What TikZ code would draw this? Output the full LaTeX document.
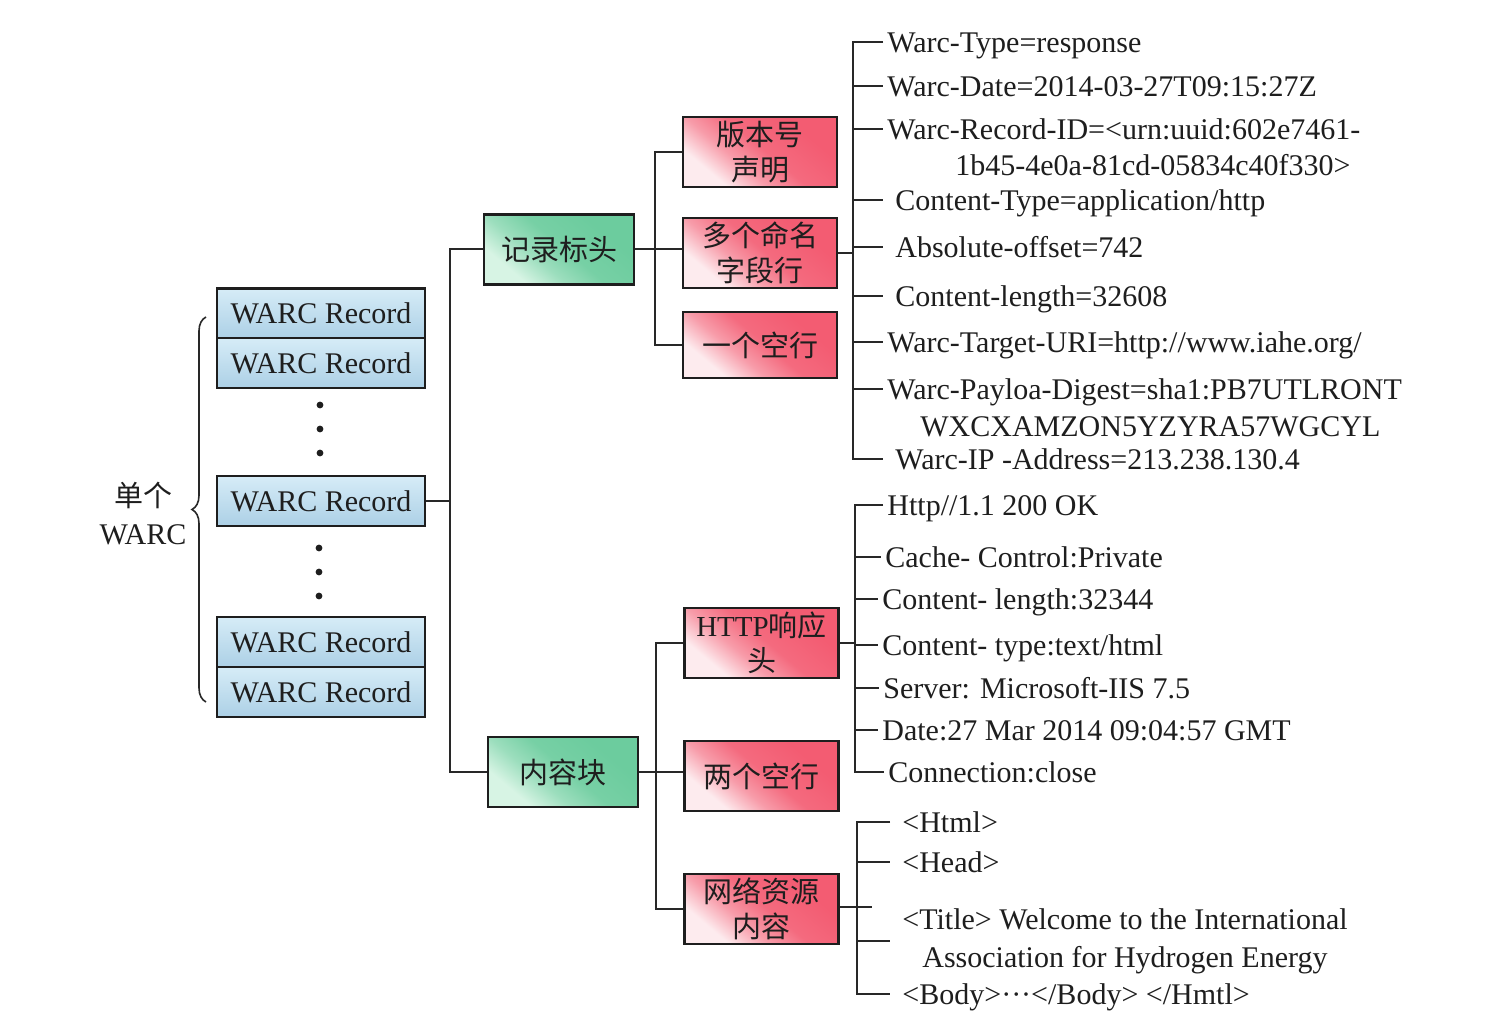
\documentclass[tikz,border=0pt]{standalone}
\usepackage{fontspec}
\setmainfont{Liberation Serif}
\newfontfamily\cjk{Noto Sans CJK SC}
\usetikzlibrary{decorations.pathreplacing,calc}
\definecolor{blueT}{RGB}{214,236,247}
\definecolor{blueB}{RGB}{172,208,230}
\definecolor{grnM}{RGB}{108,204,158}
\definecolor{grnL}{RGB}{215,244,228}
\definecolor{redM}{RGB}{243,92,114}
\definecolor{redL}{RGB}{253,235,238}
\definecolor{ink}{RGB}{30,30,30}
\definecolor{wire}{RGB}{40,40,40}
\pgfdeclareverticalshading{redsh}{100bp}{color(0bp)=(redL); color(28bp)=(redL); color(40bp)=(redM!55!redL); color(52bp)=(redM!90!redL); color(70bp)=(redM); color(100bp)=(redM)}
\pgfdeclareverticalshading{grnsh}{100bp}{color(0bp)=(grnL); color(28bp)=(grnL); color(40bp)=(grnM!55!grnL); color(52bp)=(grnM!90!grnL); color(70bp)=(grnM); color(100bp)=(grnM)}
\begin{document}
\begin{tikzpicture}[x=0.5pt,y=-0.5pt,
  box/.style={draw=ink, line width=1.1pt, inner sep=0pt, align=center, text=ink},
  rec/.style={box, top color=blueT, bottom color=blueB, minimum width=104pt, minimum height=25pt, font=\fontsize{15}{18}\selectfont},
  grn/.style={box, shading=grnsh, shading angle=-40, minimum width=75pt, minimum height=35pt, font=\fontsize{14.5}{18}\selectfont\cjk},
  redb/.style={box, shading=redsh, shading angle=-40, minimum width=77pt, minimum height=35pt, font=\fontsize{14.5}{17.5}\selectfont\cjk},
  item/.style={inner ysep=0pt, inner xsep=2pt, anchor=west, text=ink, text height=10.5pt, text depth=0pt, font=\fontsize{15}{18}\selectfont},
  item2/.style={inner ysep=0pt, inner xsep=2pt, anchor=west, text=ink, align=left, font=\fontsize{15}{19}\selectfont},
  wirel/.style={draw=wire, line width=1pt},
  dot/.style={circle, fill=ink, inner sep=0pt, minimum size=3.4pt}
]
\fill[white] (0,0) rectangle (1494,1036);

% WARC records
\node[rec] (r1) at (321,313.5) {WARC Record};
\node[rec] (r2) at (321,363) {WARC Record};
\node[rec] (r3) at (321,501) {WARC Record};
\node[rec] (r4) at (321,642) {WARC Record};
\node[rec] (r5) at (321,692) {WARC Record};
\node[dot] (d1) at (320,405) {};
\node[dot] (d2) at (320,429) {};
\node[dot] (d3) at (320,453) {};
\node[dot] (d4) at (319,548) {};
\node[dot] (d5) at (319,572) {};
\node[dot] (d6) at (319,596) {};

% label and brace
\node[align=center, text=ink, inner sep=0pt, font=\fontsize{15}{19}\selectfont] (lbl) at (143,514) {{\cjk\fontsize{14.5}{19}\selectfont 单个}\\WARC};
\coordinate (bt) at (206,317);
\coordinate (bb) at (206,702);
\draw[wire, line width=0.8pt, decorate, decoration={brace, amplitude=7pt}] (bb) -- (bt);

% level 2
\node[grn] (hdr) at (559,249.5) {记录标头};
\node[grn] (body) at (563,772) {内容块};

% level 3
\node[redb] (ver) at (760,152) {版本号\\声明};
\node[redb] (fld) at (760,253) {多个命名\\字段行};
\node[redb, minimum height=33pt] (bl1) at (760,345) {一个空行};
\node[redb] (http) at (761.5,643) {{\rmfamily HTTP}响应\\头};
\node[redb] (bl2) at (761.5,776) {两个空行};
\node[redb] (res) at (761.5,909) {网络资源\\内容};

% connectors level 1-2
\coordinate (j1) at (450,501);
\draw[wirel] (r3.east) -- (j1);
\draw[wirel] (hdr.west) -| (j1) |- (body.west);

% connectors level 2-3
\coordinate (j2) at (655,250);
\draw[wirel] (hdr.east) -- (fld.west |- hdr.east);
\draw[wirel] (ver.west) -| (j2) |- (bl1.west);
\coordinate (j3) at (656,772);
\draw[wirel] (body.east) -- (bl2.west |- body.east);
\draw[wirel] (http.west) -| (j3) |- (res.west);

% top list
\node[item] (t1) at (883,42) {Warc-Type=response};
\node[item] (t2) at (883,86) {Warc-Date=2014-03-27T09:15:27Z};
\node[item] (t3) at (883,129) {Warc-Record-ID=<urn:uuid:602e7461-};
\node[item] (t3b) at (951,165) {1b45-4e0a-81cd-05834c40f330>};
\node[item, inner xsep=6pt] (t4) at (883,200) {Content-Type=application/http};
\node[item, inner xsep=6pt] (t5) at (883,247) {Absolute-offset=742};
\node[item, inner xsep=6pt] (t6) at (883,296) {Content-length=32608};
\node[item] (t7) at (883,342) {Warc-Target-URI=http://www.iahe.org/};
\node[item] (t8) at (883,389) {Warc-Payloa-Digest=sha1:PB7UTLRONT};
\node[item] (t8b) at (916,426) {WXCXAMZON5YZYRA57WGCYL};
\node[item, inner xsep=6pt] (t9) at (883,459) {Warc-IP -Address=213.238.130.4};
\coordinate (v1) at (853,248);
\draw[wirel] (fld.east) -- (fld.east -| v1);
\draw[wirel] (t1.west) -- (v1 |- t1.west) -- (v1 |- t9.west) -- (t9.west);
\foreach \t in {t2,t3,t4,t5,t6,t7,t8} \draw[wirel] (v1 |- \t.west) -- (\t.west);

% http header list
\node[item] (h1) at (883,505) {Http//1.1 200 OK};
\node[item] (h2) at (881,557) {Cache- Control:Private};
\node[item] (h3) at (878,599) {Content- length:32344};
\node[item] (h4) at (878,645) {Content- type:text/html};
\node[item] (h5) at (879,688) {Server: Microsoft-IIS 7.5};
\node[item] (h6) at (878,730) {Date:27 Mar 2014 09:04:57 GMT};
\node[item] (h7) at (884,772) {Connection:close};
\coordinate (v2) at (855,645);
\draw[wirel] (http.east) -- (http.east -| v2);
\draw[wirel] (h1.west) -- (v2 |- h1.west) -- (v2 |- h7.west) -- (h7.west);
\foreach \t in {h2,h3,h4,h5,h6} \draw[wirel] (v2 |- \t.west) -- (\t.west);

% resource list
\node[item, inner xsep=6pt] (w1) at (890,822) {<Html>};
\node[item, inner xsep=6pt] (w2) at (890,862) {<Head>};
\node[item2, inner xsep=6pt] (w3) at (890,941) {<Title> Welcome to the International\\\hspace*{10pt}Association for Hydrogen Energy};
\node[item, inner xsep=6pt] (w4) at (890,994) {<Body>···</Body> </Hmtl>};
\coordinate (v3) at (857,907);
\draw[wirel] (res.east |- v3) -- ($(v3)+(15,0)$);
\draw[wirel] (w1.west) -- (v3 |- w1.west) -- (v3 |- w4.west) -- (w4.west);
\foreach \t in {w2,w3} \draw[wirel] (v3 |- \t.west) -- (\t.west);
\end{tikzpicture}
\end{document}
